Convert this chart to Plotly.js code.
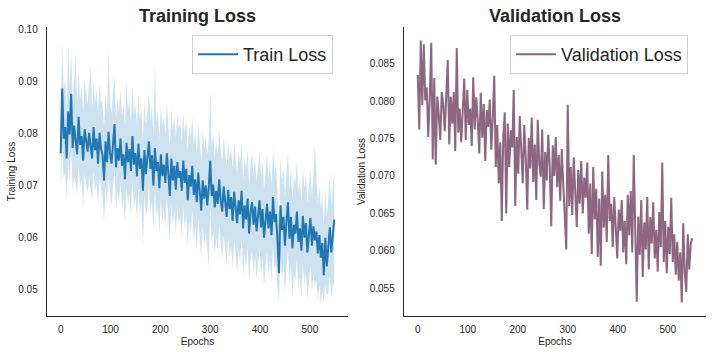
<!DOCTYPE html>
<html>
<head>
<meta charset="utf-8">
<script src="https://cdn.plot.ly/plotly-3.0.1.min.js"></script>
<style>
  body { margin: 0; background: #fff; }
  #chart { width: 712px; height: 352px; }
</style>
</head>
<body>
<div id="chart"></div>
<script>
// one value every 3 epochs, epochs 0..549
const epochStart = 0;
const epochStep = 3;

const trainLoss = [
    0.0762, 0.0886, 0.0790, 0.0812, 0.0752, 0.0842, 0.0798, 0.0876, 0.0772, 0.0815,
    0.0785, 0.0760, 0.0832, 0.0778, 0.0795, 0.0748, 0.0808, 0.0782, 0.0765, 0.0801,
    0.0775, 0.0752, 0.0812, 0.0768, 0.0790, 0.0742, 0.0801, 0.0770, 0.0758, 0.0710,
    0.0785, 0.0745, 0.0803, 0.0762, 0.0742, 0.0788, 0.0818, 0.0735, 0.0772, 0.0748,
    0.0790, 0.0738, 0.0760, 0.0712, 0.0782, 0.0745, 0.0770, 0.0728, 0.0795, 0.0740,
    0.0762, 0.0718, 0.0780, 0.0732, 0.0752, 0.0690, 0.0768, 0.0722, 0.0748, 0.0785,
    0.0732, 0.0758, 0.0700, 0.0772, 0.0728, 0.0745, 0.0695, 0.0760, 0.0718, 0.0740,
    0.0705, 0.0762, 0.0722, 0.0680, 0.0752, 0.0710, 0.0738, 0.0692, 0.0745, 0.0715,
    0.0728, 0.0690, 0.0748, 0.0705, 0.0732, 0.0672, 0.0720, 0.0698, 0.0738, 0.0682,
    0.0712, 0.0668, 0.0725, 0.0690, 0.0652, 0.0710, 0.0675, 0.0700, 0.0662, 0.0695,
    0.0748, 0.0680, 0.0702, 0.0658, 0.0690, 0.0665, 0.0712, 0.0672, 0.0650, 0.0698,
    0.0668, 0.0640, 0.0692, 0.0655, 0.0678, 0.0632, 0.0688, 0.0660, 0.0628, 0.0672,
    0.0645, 0.0690, 0.0618, 0.0662, 0.0635, 0.0675, 0.0608, 0.0650, 0.0668, 0.0625,
    0.0660, 0.0612, 0.0648, 0.0672, 0.0620, 0.0655, 0.0600, 0.0642, 0.0665, 0.0618,
    0.0650, 0.0605, 0.0678, 0.0630, 0.0645, 0.0595, 0.0532, 0.0662, 0.0615, 0.0640,
    0.0585, 0.0632, 0.0668, 0.0598, 0.0640, 0.0580, 0.0625, 0.0608, 0.0650, 0.0592,
    0.0618, 0.0575, 0.0642, 0.0600, 0.0628, 0.0572, 0.0612, 0.0638, 0.0585, 0.0622,
    0.0595, 0.0612, 0.0570, 0.0605, 0.0562, 0.0590, 0.0528, 0.0600, 0.0545, 0.0582,
    0.0620, 0.0572, 0.0598, 0.0635
];

const trainUpper = [
    0.0852, 0.0972, 0.0885, 0.0905, 0.0838, 0.0975, 0.0890, 0.0958, 0.0862, 0.0905,
    0.0948, 0.0858, 0.0920, 0.0865, 0.0892, 0.0842, 0.0905, 0.0878, 0.0855, 0.0895,
    0.0930, 0.0848, 0.0902, 0.0858, 0.0885, 0.0838, 0.0896, 0.0865, 0.0852, 0.0815,
    0.0878, 0.0842, 0.0962, 0.0855, 0.0838, 0.0882, 0.0910, 0.0830, 0.0868, 0.0842,
    0.0885, 0.0832, 0.0858, 0.0815, 0.0905, 0.0840, 0.0868, 0.0822, 0.0890, 0.0835,
    0.0858, 0.0812, 0.0875, 0.0828, 0.0848, 0.0785, 0.0862, 0.0818, 0.0842, 0.0880,
    0.0826, 0.0852, 0.0795, 0.0935, 0.0822, 0.0840, 0.0790, 0.0855, 0.0812, 0.0835,
    0.0800, 0.0858, 0.0818, 0.0776, 0.0848, 0.0805, 0.0832, 0.0788, 0.0840, 0.0810,
    0.0822, 0.0785, 0.0842, 0.0800, 0.0826, 0.0768, 0.0815, 0.0792, 0.0832, 0.0778,
    0.0806, 0.0762, 0.0820, 0.0785, 0.0748, 0.0805, 0.0770, 0.0795, 0.0758, 0.0790,
    0.0882, 0.0775, 0.0798, 0.0752, 0.0785, 0.0760, 0.0808, 0.0768, 0.0745, 0.0792,
    0.0762, 0.0735, 0.0786, 0.0750, 0.0772, 0.0728, 0.0782, 0.0755, 0.0722, 0.0766,
    0.0740, 0.0785, 0.0712, 0.0756, 0.0730, 0.0770, 0.0702, 0.0745, 0.0762, 0.0720,
    0.0755, 0.0706, 0.0742, 0.0766, 0.0714, 0.0750, 0.0694, 0.0736, 0.0760, 0.0712,
    0.0745, 0.0700, 0.0772, 0.0724, 0.0740, 0.0690, 0.0628, 0.0756, 0.0710, 0.0735,
    0.0680, 0.0726, 0.0762, 0.0692, 0.0735, 0.0675, 0.0720, 0.0702, 0.0745, 0.0686,
    0.0712, 0.0670, 0.0736, 0.0695, 0.0722, 0.0666, 0.0706, 0.0732, 0.0680, 0.0716,
    0.0780, 0.0706, 0.0665, 0.0700, 0.0656, 0.0685, 0.0622, 0.0694, 0.0640, 0.0676,
    0.0714, 0.0666, 0.0692, 0.0728
];

const trainLower = [
    0.0688, 0.0778, 0.0712, 0.0725, 0.0676, 0.0742, 0.0710, 0.0768, 0.0692, 0.0718,
    0.0705, 0.0682, 0.0738, 0.0698, 0.0712, 0.0652, 0.0722, 0.0700, 0.0684, 0.0716,
    0.0695, 0.0672, 0.0726, 0.0688, 0.0706, 0.0660, 0.0715, 0.0690, 0.0676, 0.0630,
    0.0700, 0.0662, 0.0718, 0.0680, 0.0660, 0.0702, 0.0730, 0.0652, 0.0690, 0.0665,
    0.0705, 0.0655, 0.0676, 0.0628, 0.0698, 0.0660, 0.0686, 0.0645, 0.0710, 0.0656,
    0.0678, 0.0632, 0.0695, 0.0645, 0.0668, 0.0582, 0.0684, 0.0638, 0.0662, 0.0700,
    0.0645, 0.0672, 0.0612, 0.0688, 0.0640, 0.0660, 0.0606, 0.0675, 0.0630, 0.0655,
    0.0618, 0.0676, 0.0636, 0.0592, 0.0665, 0.0622, 0.0652, 0.0604, 0.0660, 0.0628,
    0.0640, 0.0602, 0.0662, 0.0616, 0.0645, 0.0584, 0.0632, 0.0608, 0.0652, 0.0592,
    0.0622, 0.0578, 0.0638, 0.0600, 0.0560, 0.0620, 0.0584, 0.0610, 0.0572, 0.0545,
    0.0660, 0.0590, 0.0612, 0.0566, 0.0600, 0.0574, 0.0622, 0.0582, 0.0558, 0.0606,
    0.0576, 0.0548, 0.0600, 0.0562, 0.0586, 0.0540, 0.0596, 0.0568, 0.0535, 0.0580,
    0.0552, 0.0598, 0.0525, 0.0570, 0.0542, 0.0584, 0.0515, 0.0558, 0.0576, 0.0532,
    0.0568, 0.0520, 0.0556, 0.0580, 0.0528, 0.0562, 0.0508, 0.0550, 0.0572, 0.0526,
    0.0558, 0.0512, 0.0585, 0.0538, 0.0552, 0.0502, 0.0476, 0.0568, 0.0522, 0.0548,
    0.0492, 0.0540, 0.0576, 0.0505, 0.0548, 0.0488, 0.0532, 0.0515, 0.0558, 0.0500,
    0.0526, 0.0484, 0.0550, 0.0508, 0.0535, 0.0480, 0.0520, 0.0545, 0.0494, 0.0530,
    0.0505, 0.0520, 0.0480, 0.0512, 0.0472, 0.0498, 0.0475, 0.0508, 0.0490, 0.0494,
    0.0528, 0.0482, 0.0505, 0.0515
];

const valLoss = [
    0.0835, 0.0762, 0.0881, 0.0795, 0.0876, 0.0801, 0.0818, 0.0752, 0.0805, 0.0878,
    0.0722, 0.0831, 0.0715, 0.0806, 0.0783, 0.0748, 0.0812, 0.0795, 0.0760, 0.0809,
    0.0855, 0.0742, 0.0806, 0.0770, 0.0812, 0.0733, 0.0871, 0.0758, 0.0790, 0.0745,
    0.0798, 0.0830, 0.0748, 0.0815, 0.0768, 0.0790, 0.0740, 0.0832, 0.0762, 0.0805,
    0.0775, 0.0730, 0.0811, 0.0751, 0.0796, 0.0720, 0.0788, 0.0766, 0.0802, 0.0735,
    0.0778, 0.0834, 0.0712, 0.0768, 0.0690, 0.0745, 0.0640, 0.0752, 0.0785, 0.0650,
    0.0770, 0.0712, 0.0761, 0.0738, 0.0815, 0.0660, 0.0752, 0.0703, 0.0780, 0.0725,
    0.0690, 0.0768, 0.0724, 0.0655, 0.0751, 0.0710, 0.0778, 0.0692, 0.0742, 0.0668,
    0.0775, 0.0716, 0.0699, 0.0762, 0.0656, 0.0732, 0.0694, 0.0755, 0.0712, 0.0633,
    0.0741, 0.0700, 0.0752, 0.0685, 0.0728, 0.0667, 0.0736, 0.0690, 0.0644, 0.0602,
    0.0795, 0.0660, 0.0712, 0.0648, 0.0725, 0.0675, 0.0632, 0.0708, 0.0663, 0.0720,
    0.0650, 0.0698, 0.0671, 0.0718, 0.0623, 0.0690, 0.0596, 0.0712, 0.0642, 0.0683,
    0.0592, 0.0670, 0.0580, 0.0706, 0.0631, 0.0675, 0.0612, 0.0728, 0.0640, 0.0663,
    0.0605, 0.0672, 0.0618, 0.0590, 0.0655, 0.0627, 0.0668, 0.0598, 0.0640, 0.0582,
    0.0675, 0.0621, 0.0680, 0.0598, 0.0728, 0.0612, 0.0532, 0.0646, 0.0595, 0.0668,
    0.0565, 0.0638, 0.0602, 0.0672, 0.0575, 0.0645, 0.0610, 0.0665, 0.0590, 0.0628,
    0.0572, 0.0652, 0.0605, 0.0718, 0.0585, 0.0640, 0.0570, 0.0632, 0.0596, 0.0671,
    0.0585, 0.0622, 0.0568, 0.0612, 0.0560, 0.0598, 0.0531, 0.0637, 0.0572, 0.0545,
    0.0622, 0.0575, 0.0610, 0.0617
];

const trainColor = '#1f77b4';
const bandColor = 'rgba(31,119,180,0.22)';
const valColor = '#8d6680';
const ink = '#262626';
const font = 'Liberation Sans, Arial, sans-serif';

const W = 712, H = 352;

const traces = [
    {
        x0: epochStart, dx: epochStep, y: trainLower,
        type: 'scatter', mode: 'lines',
        line: { width: 0, color: bandColor },
        showlegend: false, hoverinfo: 'skip',
        xaxis: 'x', yaxis: 'y'
    },
    {
        x0: epochStart, dx: epochStep, y: trainUpper,
        type: 'scatter', mode: 'lines',
        line: { width: 0, color: bandColor },
        fill: 'tonexty', fillcolor: bandColor,
        showlegend: false, hoverinfo: 'skip',
        xaxis: 'x', yaxis: 'y'
    },
    {
        x0: epochStart, dx: epochStep, y: trainLoss,
        type: 'scatter', mode: 'lines', name: 'Train Loss',
        line: { color: trainColor, width: 2 },
        xaxis: 'x', yaxis: 'y', legend: 'legend'
    },
    {
        x0: epochStart, dx: epochStep, y: valLoss,
        type: 'scatter', mode: 'lines', name: 'Validation Loss',
        line: { color: valColor, width: 2 },
        xaxis: 'x2', yaxis: 'y2', legend: 'legend2'
    }
];

function xAxis(domain, anchor) {
    return {
        domain: domain, anchor: anchor,
        range: [-27.5, 576.5],
        tickvals: [0, 100, 200, 300, 400, 500],
        showgrid: false, zeroline: false,
        showline: true, linecolor: ink, linewidth: 1.25,
        ticks: '', ticklabelstandoff: 4,
        tickfont: { family: font, size: 10, color: ink },
        title: { text: 'Epochs', font: { family: font, size: 10, color: ink }, standoff: 3 }
    };
}

function yAxis(domain, anchor, range, tickvals, ticktext, label, standoff) {
    return {
        domain: domain, anchor: anchor,
        range: range, tickvals: tickvals, ticktext: ticktext,
        showgrid: false, zeroline: false,
        showline: true, linecolor: ink, linewidth: 1.25,
        ticks: '', ticklabelstandoff: 6,
        tickfont: { family: font, size: 10, color: ink },
        title: { text: label, font: { family: font, size: 10, color: ink }, standoff: standoff }
    };
}

const yDomain = [(H - 316) / H, (H - 27) / H];

const legendBase = {
    xref: 'paper', yref: 'paper',
    xanchor: 'left', yanchor: 'top',
    bgcolor: 'rgba(255,255,255,0.8)',
    bordercolor: '#d0d0d0', borderwidth: 1,
    font: { family: font, size: 18, color: ink },
    itemwidth: 40
};

const layout = {
    width: W, height: H,
    margin: { l: 0, r: 0, t: 0, b: 0 },
    paper_bgcolor: '#fff', plot_bgcolor: '#fff',
    xaxis: xAxis([47 / W, 348 / W], 'y'),
    yaxis: yAxis(yDomain, 'x', [0.045, 0.1004],
        [0.05, 0.06, 0.07, 0.08, 0.09, 0.10],
        ['0.05', '0.06', '0.07', '0.08', '0.09', '0.10'], 'Training Loss', 0),
    xaxis2: xAxis([404 / W, 706 / W], 'y2'),
    yaxis2: yAxis(yDomain, 'x2', [0.0513, 0.0899],
        [0.055, 0.060, 0.065, 0.070, 0.075, 0.080, 0.085],
        ['0.055', '0.060', '0.065', '0.070', '0.075', '0.080', '0.085'], 'Validation Loss', 2),
    legend: Object.assign({}, legendBase, { x: 192 / W, y: (H - 35) / H }),
    legend2: Object.assign({}, legendBase, { x: 510 / W, y: (H - 35) / H }),
    annotations: [
        {
            text: '<b>Training Loss</b>', xref: 'paper', yref: 'paper',
            x: 197.5 / W, y: (H - 16) / H, xanchor: 'center', yanchor: 'middle',
            showarrow: false, font: { family: font, size: 18, color: ink }
        },
        {
            text: '<b>Validation Loss</b>', xref: 'paper', yref: 'paper',
            x: 555 / W, y: (H - 16) / H, xanchor: 'center', yanchor: 'middle',
            showarrow: false, font: { family: font, size: 18, color: ink }
        }
    ]
};

Plotly.newPlot('chart', traces, layout, { displayModeBar: false, staticPlot: true });
</script>
</body>
</html>
